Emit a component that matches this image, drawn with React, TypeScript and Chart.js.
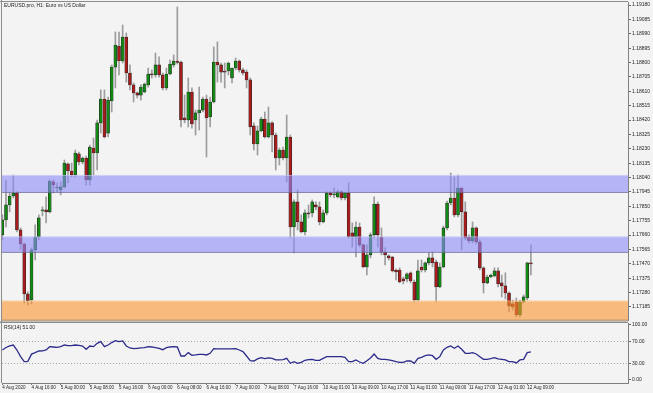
import React, { useEffect, useRef } from "react";
import { Chart, registerables } from "chart.js";

Chart.register(...registerables);

// ---------------- data ----------------
const chartTitle = "EURUSD.pro, H1: Euro vs US Dollar";
const rsiTitle = "RSI(14) 51.00";

const opens = [
  1.17661, 1.17760, 1.17859, 1.17918, 1.17938, 1.17694, 1.17601, 1.17271, 1.17231, 1.17562,
  1.17647, 1.17819, 1.17826, 1.17813, 1.18011, 1.17971, 1.17958, 1.17978, 1.18130, 1.18083,
  1.18057, 1.18196, 1.18143, 1.18169, 1.18024, 1.18235, 1.18202, 1.18401, 1.18559, 1.18334,
  1.18546, 1.18770, 1.18909, 1.18810, 1.18969, 1.18731, 1.18652, 1.18599, 1.18585, 1.18605,
  1.18652, 1.18724, 1.18718, 1.18784, 1.18718, 1.18632, 1.18724, 1.18784, 1.18810, 1.18803,
  1.18434, 1.18420, 1.18605, 1.18420, 1.18467, 1.18486, 1.18559, 1.18440, 1.18539, 1.18803,
  1.18784, 1.18744, 1.18744, 1.18698, 1.18764, 1.18810, 1.18751, 1.18737, 1.18685, 1.18381,
  1.18262, 1.18348, 1.18427, 1.18308, 1.18401, 1.18321, 1.18169, 1.18222, 1.18169, 1.18308,
  1.17713, 1.17879, 1.17747, 1.17680, 1.17806, 1.17806, 1.17859, 1.17846, 1.17747, 1.17806,
  1.17938, 1.17925, 1.17912, 1.17945, 1.17905, 1.17938, 1.17674, 1.17647, 1.17713, 1.17595,
  1.17449, 1.17529, 1.17661, 1.17865, 1.17647, 1.17548, 1.17522, 1.17515, 1.17429, 1.17429,
  1.17370, 1.17370, 1.17410, 1.17350, 1.17231, 1.17449, 1.17429, 1.17476, 1.17509, 1.17482,
  1.17317, 1.17449, 1.17707, 1.17872, 1.17905, 1.17793, 1.17971, 1.17813, 1.17647, 1.17621,
  1.17707, 1.17614, 1.17443, 1.17344, 1.17383, 1.17390, 1.17423, 1.17344, 1.17324, 1.17277,
  1.17205, 1.17218, 1.17132, 1.17218, 1.17244, 1.17476,
];
const highs = [
  1.17793, 1.18024, 1.17938, 1.18057, 1.17945, 1.17707, 1.17608, 1.17284, 1.17575, 1.17727,
  1.17793, 1.17846, 1.17912, 1.18024, 1.18024, 1.18004, 1.18011, 1.18156, 1.18136, 1.18136,
  1.18222, 1.18209, 1.18176, 1.18182, 1.18255, 1.18301, 1.18420, 1.18619, 1.18619, 1.18572,
  1.18784, 1.19002, 1.19002, 1.19048, 1.18995, 1.18784, 1.18665, 1.18605, 1.18652, 1.18665,
  1.18764, 1.18751, 1.18863, 1.18837, 1.18731, 1.18764, 1.18817, 1.18850, 1.19167, 1.18810,
  1.18585, 1.18698, 1.18632, 1.18486, 1.18638, 1.18572, 1.18585, 1.18572, 1.18903, 1.18936,
  1.18797, 1.18797, 1.18803, 1.18764, 1.18830, 1.18817, 1.18764, 1.18751, 1.18698, 1.18401,
  1.18381, 1.18440, 1.18473, 1.18506, 1.18410, 1.18334, 1.18235, 1.18242, 1.18453, 1.18321,
  1.17892, 1.17958, 1.17793, 1.17826, 1.17859, 1.17892, 1.17879, 1.17879, 1.17826, 1.17945,
  1.17945, 1.17971, 1.17958, 1.17951, 1.17938, 1.18004, 1.17740, 1.17747, 1.17740, 1.17600,
  1.17595, 1.17674, 1.17912, 1.17879, 1.17707, 1.17575, 1.17529, 1.17520, 1.17436, 1.17443,
  1.17383, 1.17410, 1.17416, 1.17363, 1.17495, 1.17495, 1.17482, 1.17542, 1.17548, 1.17495,
  1.17476, 1.17720, 1.17885, 1.18070, 1.18044, 1.18057, 1.17975, 1.17879, 1.17661, 1.17747,
  1.17713, 1.17628, 1.17449, 1.17396, 1.17403, 1.17443, 1.17443, 1.17396, 1.17410, 1.17284,
  1.17231, 1.17244, 1.17231, 1.17264, 1.17480, 1.17595,
];
const lows = [
  1.17628, 1.17713, 1.17813, 1.17905, 1.17680, 1.17562, 1.17211, 1.17198, 1.17205, 1.17495,
  1.17628, 1.17786, 1.17740, 1.17806, 1.17938, 1.17945, 1.17925, 1.17971, 1.18004, 1.18044,
  1.18044, 1.18123, 1.18130, 1.17991, 1.17991, 1.18057, 1.18090, 1.18334, 1.18301, 1.18308,
  1.18473, 1.18632, 1.18718, 1.18797, 1.18671, 1.18619, 1.18539, 1.18566, 1.18552, 1.18599,
  1.18638, 1.18698, 1.18704, 1.18704, 1.18619, 1.18619, 1.18718, 1.18770, 1.18790, 1.18374,
  1.18401, 1.18374, 1.18367, 1.18321, 1.18354, 1.18473, 1.18176, 1.18374, 1.18533, 1.18671,
  1.18671, 1.18632, 1.18718, 1.18665, 1.18751, 1.18737, 1.18718, 1.18632, 1.18321, 1.18222,
  1.18189, 1.18341, 1.18301, 1.18301, 1.18209, 1.18090, 1.18123, 1.18156, 1.18011, 1.17641,
  1.17542, 1.17694, 1.17674, 1.17661, 1.17773, 1.17780, 1.17826, 1.17727, 1.17740, 1.17793,
  1.17912, 1.17905, 1.17905, 1.17892, 1.17892, 1.17641, 1.17581, 1.17515, 1.17581, 1.17443,
  1.17396, 1.17509, 1.17641, 1.17581, 1.17529, 1.17462, 1.17495, 1.17416, 1.17363, 1.17344,
  1.17337, 1.17350, 1.17344, 1.17218, 1.17225, 1.17416, 1.17416, 1.17462, 1.17449, 1.17218,
  1.17311, 1.17443, 1.17694, 1.17859, 1.17780, 1.17780, 1.17562, 1.17628, 1.17608, 1.17608,
  1.17601, 1.17429, 1.17277, 1.17337, 1.17377, 1.17383, 1.17317, 1.17251, 1.17238, 1.17152,
  1.17165, 1.17119, 1.17119, 1.17211, 1.17231, 1.17396,
];
const closes = [
  1.17760, 1.17859, 1.17918, 1.17938, 1.17694, 1.17601, 1.17271, 1.17225, 1.17562, 1.17647,
  1.17773, 1.17826, 1.17813, 1.18017, 1.17991, 1.17975, 1.17978, 1.18136, 1.18083, 1.18057,
  1.18202, 1.18143, 1.18169, 1.18024, 1.18242, 1.18202, 1.18401, 1.18559, 1.18308, 1.18552,
  1.18770, 1.18916, 1.18810, 1.18969, 1.18731, 1.18652, 1.18599, 1.18585, 1.18638, 1.18658,
  1.18724, 1.18718, 1.18784, 1.18718, 1.18632, 1.18724, 1.18790, 1.18810, 1.18800, 1.18420,
  1.18420, 1.18605, 1.18394, 1.18467, 1.18486, 1.18559, 1.18434, 1.18539, 1.18803, 1.18784,
  1.18737, 1.18737, 1.18797, 1.18764, 1.18810, 1.18751, 1.18731, 1.18685, 1.18374, 1.18262,
  1.18348, 1.18427, 1.18308, 1.18401, 1.18321, 1.18169, 1.18222, 1.18169, 1.18308, 1.17713,
  1.17879, 1.17747, 1.17680, 1.17806, 1.17799, 1.17879, 1.17846, 1.17747, 1.17806, 1.17938,
  1.17925, 1.17928, 1.17945, 1.17905, 1.17938, 1.17647, 1.17647, 1.17713, 1.17595, 1.17449,
  1.17529, 1.17661, 1.17865, 1.17661, 1.17548, 1.17529, 1.17509, 1.17423, 1.17416, 1.17350,
  1.17357, 1.17403, 1.17357, 1.17231, 1.17423, 1.17429, 1.17476, 1.17509, 1.17476, 1.17317,
  1.17449, 1.17707, 1.17872, 1.17905, 1.17793, 1.17971, 1.17813, 1.17641, 1.17621, 1.17707,
  1.17614, 1.17443, 1.17344, 1.17383, 1.17396, 1.17423, 1.17337, 1.17324, 1.17277, 1.17192,
  1.17185, 1.17132, 1.17218, 1.17251, 1.17476, 1.17469,
];
const rsiValues = [
  54.5, 59, 62, 63.6, 54.5, 42.4, 33.3, 34, 47, 49.7,
  52.7, 53, 54.5, 60.6, 60, 59.4, 60.6, 63.6, 62.4, 62.4,
  63.6, 63, 61.8, 55.8, 61.8, 60.6, 66.7, 69.7, 60.6, 63.6,
  68, 71.5, 69.7, 71, 61.8, 58.2, 57, 57.6, 58.2, 58.8,
  60.6, 60, 58.8, 57.6, 55, 58.8, 60, 60.6, 60, 43.6,
  43.6, 49.7, 45, 45.5, 46.6, 46.6, 45.5, 48.5, 57, 56.4,
  56.4, 56.4, 56.4, 56.4, 57, 54.5, 51.5, 43.6, 35, 34.5,
  38.2, 40.6, 38.8, 40, 39.4, 36.4, 36.4, 37, 39.4, 30.3,
  33.3, 30.3, 32, 35.8, 37, 37.6, 35.8, 35.8, 39.4, 42.4,
  42.4, 42.4, 42.4, 42.4, 41.2, 33.3, 33.3, 36.4, 32.7, 30.3,
  35, 40, 47.3, 39.4, 37.6, 37.6, 36.4, 35.2, 33.3, 32.1,
  32.1, 34.5, 34.5, 30.3, 39.4, 41.2, 44.2, 45.5, 44.2, 37.6,
  42.4, 54.5, 59.4, 61.8, 57.6, 61.8, 55.8, 48.5, 48.5, 49.7,
  47.3, 42.4, 37.6, 37.6, 38.8, 40.6, 38.2, 37.6, 36.4, 33.3,
  33.3, 30.9, 36.4, 37.6, 49.7, 51.0,
];

const timeTickBars = [0, 8, 16, 24, 32, 40, 48, 56, 64, 72, 80, 88, 96, 104, 112, 120, 128, 136, 144];
const timeTickLabels = [
  "4 Aug 2020", "4 Aug 16:00", "5 Aug 00:00", "5 Aug 08:00", "5 Aug 16:00", "6 Aug 00:00",
  "6 Aug 08:00", "6 Aug 16:00", "7 Aug 00:00", "7 Aug 08:00", "7 Aug 16:00", "10 Aug 01:00",
  "10 Aug 09:00", "10 Aug 17:00", "11 Aug 01:00", "11 Aug 09:00", "11 Aug 17:00",
  "12 Aug 01:00", "12 Aug 09:00",
];
const priceTicks = [
  1.19180, 1.19085, 1.18990, 1.18895, 1.18800, 1.18705, 1.18610, 1.18515, 1.18420, 1.18325,
  1.18230, 1.18135, 1.18040, 1.17945, 1.17850, 1.17755, 1.17660, 1.17565, 1.17470, 1.17375,
  1.17280, 1.17185,
];
const rsiTicks = [0, 30, 70, 100];
const rsiLevels = [30, 70];
const supplyBands = [
  [1.17938, 1.18057],
  [1.17542, 1.17651],
];
const demandBand = [1.17094, 1.17227];

// ---------------- styling ----------------
const W = 653;
const PRICE_H = 321;
const RSI_H = 72;
const BG = "#f3f3f3";
const FONT_FAMILY = "'Liberation Sans', Arial, sans-serif";
const TXT = "#1e1e1e";
const BULL = "#138a13";
const BEAR = "#a81c1c";
const WICK = "#9c9c9c";
const X_MIN = -0.1;
const X_MAX = 171.64;
const AXIS_W = 25;

const fitY = (s: any) => {
  s.width = AXIS_W;
  s.paddingTop = 0;
  s.paddingBottom = 0;
};

export default function App() {
  const priceRef = useRef<HTMLCanvasElement>(null);
  const rsiRef = useRef<HTMLCanvasElement>(null);

  useEffect(() => {
    document.body.style.margin = "0";
    document.body.style.background = BG;

    const bgPlugin = {
      id: "bg",
      beforeDraw(chart: any) {
        const c = chart.ctx;
        c.save();
        c.fillStyle = BG;
        c.fillRect(0, 0, chart.width, chart.height);
        c.restore();
      },
    };

    const zonesPlugin = {
      id: "zones",
      afterDatasetsDraw(chart: any) {
        const { ctx, chartArea: a } = chart;
        const y = chart.scales.y;
        ctx.save();
        ctx.beginPath();
        ctx.rect(a.left, a.top, a.right - a.left, a.bottom - a.top);
        ctx.clip();
        const draw = (band: number[], fill: string) => {
          const top = y.getPixelForValue(band[1]);
          const bot = y.getPixelForValue(band[0]);
          ctx.fillStyle = fill;
          ctx.fillRect(a.left, top, a.right - a.left, bot - top);
          ctx.fillStyle = "rgba(255,255,255,0.35)";
          ctx.fillRect(a.left, top, a.right - a.left, 1);
          ctx.fillStyle = "rgba(80,80,80,0.45)";
          ctx.fillRect(a.left, bot - 1, a.right - a.left, 1);
        };
        supplyBands.forEach((b) => draw(b, "rgba(138,138,248,0.6)"));
        draw(demandBand, "rgba(251,150,46,0.6)");
        ctx.restore();
      },
    };

    const priceFrame = {
      id: "priceFrame",
      afterDraw(chart: any) {
        const { ctx, chartArea: a } = chart;
        ctx.save();
        ctx.fillStyle = "#8c8c8c";
        ctx.fillRect(0, 1, a.right, 1);
        ctx.fillRect(1, 0, 1, chart.height);
        ctx.fillStyle = TXT;
        ctx.font = `5px ${FONT_FAMILY}`;
        ctx.textBaseline = "middle";
        ctx.textAlign = "left";
        ctx.fillText(chartTitle, 4, 5.5);
        ctx.restore();
      },
    };

    const rsiLevelsPlugin = {
      id: "rsiLevels",
      beforeDatasetsDraw(chart: any) {
        const { ctx, chartArea: a } = chart;
        const y = chart.scales.y;
        ctx.save();
        ctx.strokeStyle = "#a8a8a8";
        ctx.lineWidth = 1;
        ctx.setLineDash([1, 2]);
        rsiLevels.forEach((lv) => {
          const py = Math.round(y.getPixelForValue(lv)) + 0.5;
          ctx.beginPath();
          ctx.moveTo(a.left, py);
          ctx.lineTo(a.right, py);
          ctx.stroke();
        });
        ctx.restore();
      },
    };

    const rsiFrame = {
      id: "rsiFrame",
      afterDraw(chart: any) {
        const { ctx, chartArea: a } = chart;
        ctx.save();
        ctx.fillStyle = "#8c8c8c";
        ctx.fillRect(0, 0.5, a.right, 1.5);
        ctx.fillRect(1, 0, 1, a.bottom);
        ctx.fillStyle = TXT;
        ctx.font = `5px ${FONT_FAMILY}`;
        ctx.textBaseline = "middle";
        ctx.textAlign = "left";
        ctx.fillText(rsiTitle, 4, 6.7);
        ctx.restore();
      },
    };

    const idx = opens.map((_, i) => i);
    const bodyColors = idx.map((i) => (closes[i] >= opens[i] ? BULL : BEAR));
    const yFont = { family: FONT_FAMILY, size: 5 };
    const xFont = { family: FONT_FAMILY, size: 4.5 };

    const priceChart = new Chart(priceRef.current as HTMLCanvasElement, {
      type: "bar",
      data: {
        datasets: [
          {
            label: "body",
            data: idx.map((i) => ({ x: i, y: [opens[i], closes[i]] })),
            backgroundColor: bodyColors,
            borderColor: "#262626",
            borderWidth: 0.6,
            borderSkipped: false,
            barThickness: 3,
            minBarLength: 1,
            grouped: false,
            order: 0,
          },
          {
            label: "wick",
            data: idx.map((i) => ({ x: i, y: [lows[i], highs[i]] })),
            backgroundColor: WICK,
            borderWidth: 0,
            barThickness: 1,
            grouped: false,
            order: 1,
          },
        ],
      } as any,
      options: {
        responsive: false,
        animation: false,
        devicePixelRatio: 1,
        events: [],
        layout: { padding: { top: 2, left: 2, right: 0, bottom: 0 } },
        plugins: { legend: { display: false }, tooltip: { enabled: false } },
        scales: {
          x: { type: "linear", min: X_MIN, max: X_MAX, display: false, offset: false },
          y: {
            position: "right",
            min: 1.17092,
            max: 1.192,
            afterFit: fitY,
            afterBuildTicks: (s: any) => {
              s.ticks = priceTicks.map((v) => ({ value: v }));
            },
            ticks: {
              callback: (v: any) => Number(v).toFixed(5),
              font: yFont,
              color: TXT,
              padding: 1,
            },
            grid: { drawOnChartArea: false, tickLength: 3, color: "#666" },
            border: { display: true, color: "#808080", width: 1 },
          },
        },
      } as any,
      plugins: [bgPlugin, zonesPlugin, priceFrame],
    });

    const rsiChart = new Chart(rsiRef.current as HTMLCanvasElement, {
      type: "line",
      data: {
        datasets: [
          {
            label: "RSI",
            data: idx.map((i) => ({ x: i, y: rsiValues[i] })),
            borderColor: "#2b2b8c",
            borderWidth: 1.3,
            pointRadius: 0,
            tension: 0,
            fill: false,
          },
        ],
      } as any,
      options: {
        responsive: false,
        animation: false,
        devicePixelRatio: 1,
        events: [],
        layout: { padding: { top: 2, left: 2, right: 0, bottom: 0 } },
        plugins: { legend: { display: false }, tooltip: { enabled: false } },
        scales: {
          x: {
            type: "linear",
            min: X_MIN,
            max: X_MAX,
            offset: false,
            afterFit: (s: any) => {
              s.height = 10;
              s.paddingLeft = 0;
              s.paddingRight = 0;
            },
            afterBuildTicks: (s: any) => {
              s.ticks = timeTickBars.map((v) => ({ value: v }));
            },
            ticks: {
              callback: (_v: any, i: number) => timeTickLabels[i],
              align: "start",
              maxRotation: 0,
              minRotation: 0,
              autoSkip: false,
              font: xFont,
              color: TXT,
              padding: 0,
            },
            grid: { drawOnChartArea: false, tickLength: 2, color: "#777" },
            border: { display: true, color: "#808080", width: 1 },
          },
          y: {
            position: "right",
            min: -5.5,
            max: 103.6,
            afterFit: fitY,
            afterBuildTicks: (s: any) => {
              s.ticks = rsiTicks.map((v) => ({ value: v }));
            },
            ticks: {
              callback: (v: any) => Number(v).toFixed(2),
              font: yFont,
              color: TXT,
              padding: 1,
            },
            grid: { drawOnChartArea: false, tickLength: 3, color: "#666" },
            border: { display: true, color: "#808080", width: 1 },
          },
        },
      } as any,
      plugins: [bgPlugin, rsiLevelsPlugin, rsiFrame],
    });

    return () => {
      priceChart.destroy();
      rsiChart.destroy();
    };
  }, []);

  return (
    <div style={{ position: "relative", width: W, height: PRICE_H + RSI_H, background: BG }}>
      <canvas
        ref={priceRef}
        width={W}
        height={PRICE_H}
        style={{ position: "absolute", left: 0, top: 0, width: W, height: PRICE_H }}
      />
      <canvas
        ref={rsiRef}
        width={W}
        height={RSI_H}
        style={{ position: "absolute", left: 0, top: PRICE_H, width: W, height: RSI_H }}
      />
    </div>
  );
}
